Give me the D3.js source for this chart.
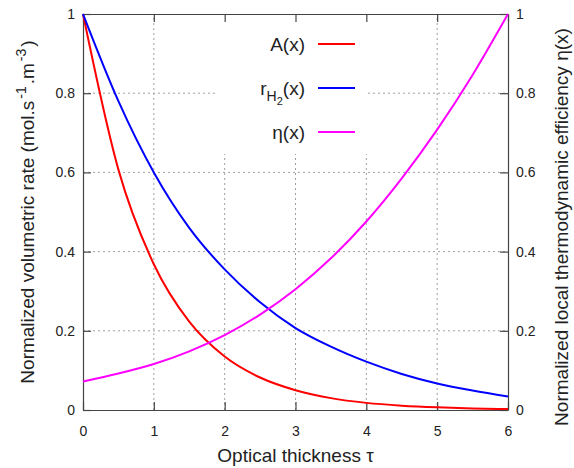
<!DOCTYPE html>
<html>
<head>
<meta charset="utf-8">
<script src="https://cdn.jsdelivr.net/npm/d3@7"></script>
<style>
body { margin: 0; background: #fff; }
text { font-family: "Liberation Sans", Arial, sans-serif; fill: #222; }
</style>
</head>
<body>
<svg id="chart" width="574" height="468"></svg>
<script>
var width = 574;
var height = 468;
var margin = {top: 14, right: 66, bottom: 58, left: 83};

// optical thickness samples
var tau = [0, 0.5, 1, 1.5, 2, 2.5, 3, 3.5, 4, 4.5, 5, 5.5, 6];
// values
var aVals = [1, 0.607, 0.368, 0.223, 0.135, 0.082, 0.050, 0.030, 0.018, 0.011, 0.0067, 0.004, 0.0025];
var rVals = [1, 0.78, 0.60, 0.46, 0.355, 0.272, 0.207, 0.16, 0.122, 0.091, 0.067, 0.049, 0.034];
var etaVals = [0.072, 0.092, 0.116, 0.148, 0.189, 0.241, 0.305, 0.383, 0.476, 0.585, 0.708, 0.846, 1.0];

var xTicks = [0, 1, 2, 3, 4, 5, 6];
var yTicks = [0, 0.2, 0.4, 0.6, 0.8, 1];

var series = [
    {name: "A", values: aVals, color: "#ff0000"},
    {name: "r", values: rVals, color: "#0000ff"},
    {name: "eta", values: etaVals, color: "#ff00ff"}
];

var svg = d3.select("#chart");
var x0 = margin.left, x1 = width - margin.right;
var y0 = height - margin.bottom, y1 = margin.top;

var x = d3.scaleLinear().domain([0, 6]).range([x0, x1]);
var y = d3.scaleLinear().domain([0, 1]).range([y0, y1]);
var y2 = d3.scaleLinear().domain([0, 1]).range([y0, y1]);

// grid
var grid = svg.append("g");
grid.selectAll("line.v")
    .data(xTicks.slice(1, -1))
    .enter().append("line")
    .attr("x1", function(d) { return x(d); })
    .attr("x2", function(d) { return x(d); })
    .attr("y1", y0).attr("y2", y1)
    .style("stroke", "#a0a0a0").style("stroke-width", 1)
    .style("stroke-dasharray", "2,3");
grid.selectAll("line.h")
    .data(yTicks.slice(1, -1))
    .enter().append("line")
    .attr("y1", function(d) { return y(d); })
    .attr("y2", function(d) { return y(d); })
    .attr("x1", x0).attr("x2", x1)
    .style("stroke", "#a0a0a0").style("stroke-width", 1)
    .style("stroke-dasharray", "2,3");

// legend background hides the grid
svg.append("rect")
    .attr("x", 218).attr("y", y1 + 1)
    .attr("width", 150).attr("height", 139)
    .style("fill", "#fff");

// axes with inward ticks
var fmt = function(d) { return d3.format("~g")(d); };
var axBottom = svg.append("g").attr("transform", "translate(0," + y0 + ")")
    .call(d3.axisBottom(x).tickValues(xTicks).tickSizeInner(-8).tickSizeOuter(0).tickPadding(16).tickFormat(fmt));
var axTop = svg.append("g").attr("transform", "translate(0," + y1 + ")")
    .call(d3.axisTop(x).tickValues(xTicks).tickSizeInner(-8).tickSizeOuter(0).tickFormat(""));
var axLeft = svg.append("g").attr("transform", "translate(" + x0 + ",0)")
    .call(d3.axisLeft(y).tickValues(yTicks).tickSizeInner(-8).tickSizeOuter(0).tickPadding(8).tickFormat(fmt));
var axRight = svg.append("g").attr("transform", "translate(" + x1 + ",0)")
    .call(d3.axisRight(y2).tickValues(yTicks).tickSizeInner(-8).tickSizeOuter(0).tickPadding(8).tickFormat(fmt));

[axBottom, axTop, axLeft, axRight].forEach(function(g) {
    g.select(".domain").style("stroke", "#444").style("stroke-width", 1.2);
    g.selectAll(".tick line").style("stroke", "#444").style("stroke-width", 1.2);
    g.selectAll(".tick text").style("font-family", "Liberation Sans, Arial, sans-serif")
        .style("font-size", "14px").style("fill", "#222");
});

// curves
var line = d3.line()
    .x(function(d, i) { return x(tau[i]); })
    .y(function(d) { return y(d); })
    .curve(d3.curveMonotoneX);

svg.append("g").selectAll("path")
    .data(series)
    .enter().append("path")
    .attr("d", function(d) { return line(d.values); })
    .style("fill", "none")
    .style("stroke", function(d) { return d.color; })
    .style("stroke-width", 2);

// legend
var lg = svg.append("g").style("font-size", "19px");
var legY = [44, 88, 132];
lg.selectAll("line")
    .data(series)
    .enter().append("line")
    .attr("x1", 318).attr("x2", 355)
    .attr("y1", function(d, i) { return legY[i]; })
    .attr("y2", function(d, i) { return legY[i]; })
    .style("stroke", function(d) { return d.color; })
    .style("stroke-width", 2);

lg.append("text").attr("x", 305).attr("y", legY[0] + 7).attr("text-anchor", "end").text("A(x)");
var tr = lg.append("text").attr("x", 305).attr("y", legY[1] + 7).attr("text-anchor", "end");
tr.append("tspan").text("r");
tr.append("tspan").attr("dy", 6).style("font-size", "14px").text("H");
tr.append("tspan").attr("dy", 4).style("font-size", "11px").text("2");
tr.append("tspan").attr("dy", -10).text("(x)");
lg.append("text").attr("x", 305).attr("y", legY[2] + 7).attr("text-anchor", "end").text("η(x)");

// axis titles
svg.append("text")
    .attr("x", (x0 + x1) / 2).attr("y", 462)
    .attr("text-anchor", "middle")
    .style("font-size", "19px")
    .text("Optical thickness τ");

var lt = svg.append("text")
    .attr("transform", "translate(34," + ((y0 + y1) / 2) + ") rotate(-90)")
    .attr("text-anchor", "middle")
    .style("font-size", "19px");
lt.append("tspan").text("Normalized volumetric rate (mol.s");
lt.append("tspan").attr("dy", -8).attr("dx", 2).style("font-size", "14px").text("-1");
lt.append("tspan").attr("dy", 8).attr("dx", 2).text(".m");
lt.append("tspan").attr("dy", -8).attr("dx", 2).style("font-size", "14px").text("-3");
lt.append("tspan").attr("dy", 8).attr("dx", 2).text(")");

svg.append("text")
    .attr("transform", "translate(568,227) rotate(-90)")
    .attr("text-anchor", "middle")
    .style("font-size", "19px")
    .text("Normalized local thermodynamic efficiency η(x)");
</script>
</body>
</html>
